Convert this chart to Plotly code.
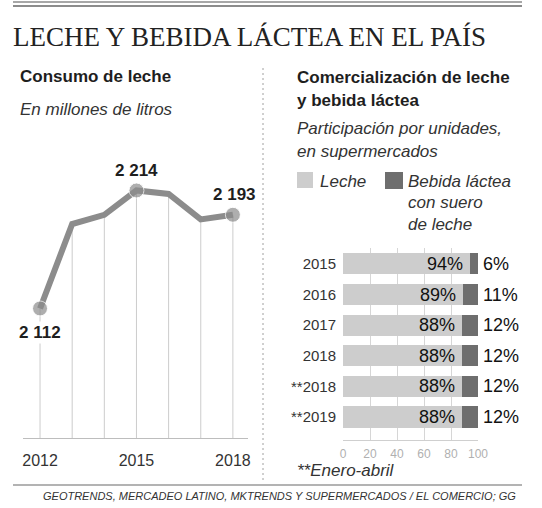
import plotly.graph_objects as go

# ---------------- data ----------------
years = [2012, 2013, 2014, 2015, 2016, 2017, 2018]
consumo = [2112, 2185, 2193, 2214, 2211, 2189, 2193]
labeled_years = [2012, 2015, 2018]
x_ticks = [2012, 2015, 2018]

cats = ["2015", "2016", "2017", "2018", "**2018", "**2019"]
leche = [94, 89, 88, 88, 88, 88]
bebida = [6, 11, 12, 12, 12, 12]
pct_ticks = [0, 20, 40, 60, 80, 100]

W, H = 542, 508
SANS = "Liberation Sans, Arial, sans-serif"
SERIF = "Liberation Serif, Times New Roman, serif"
DARK = "#1e1e1e"


def px(x):
    return x / W


def py(y):
    return 1 - y / H


fig = go.Figure()

# drop lines from base to each value
dx, dy = [], []
for yr, v in zip(years, consumo):
    dx += [yr, yr, None]
    dy += [2000, v, None]
fig.add_trace(go.Scatter(x=dx, y=dy, mode="lines", line=dict(color="#cccccc", width=1),
                         hoverinfo="skip", showlegend=False, xaxis="x", yaxis="y"))

# main line
msize = [15 if yr in labeled_years else 0 for yr in years]
fig.add_trace(go.Scatter(x=years, y=consumo, mode="lines+markers",
                         line=dict(color="#8c8c8c", width=6),
                         marker=dict(size=msize, color="#8c8c8c"),
                         showlegend=False, xaxis="x", yaxis="y"))

# stacked bars
fig.add_trace(go.Bar(y=cats, x=leche, orientation="h", name="Leche",
                     marker=dict(color="#cdcdcd", line=dict(width=0)),
                     showlegend=False, xaxis="x2", yaxis="y2"))
fig.add_trace(go.Bar(y=cats, x=bebida, orientation="h", name="Bebida láctea",
                     marker=dict(color="#6e6e6e", line=dict(width=0)),
                     showlegend=False, xaxis="x2", yaxis="y2"))

annotations = []

# line value labels
for yr, v in zip(years, consumo):
    if yr not in labeled_years:
        continue
    txt = f"{v:,}".replace(",", " ")
    if yr == 2012:
        annotations.append(dict(x=yr, y=v, xref="x", yref="y", text=f"<b>{txt}</b>",
                                showarrow=False, yshift=-24, bgcolor="white",
                                font=dict(family=SANS, size=17, color=DARK)))
    else:
        annotations.append(dict(x=yr, y=v, xref="x", yref="y", text=f"<b>{txt}</b>",
                                showarrow=False, yshift=20, xshift=2 if yr == 2018 else 0,
                                font=dict(family=SANS, size=17, color=DARK)))

# bar value labels (category index positions)
for i, (c, l, b) in enumerate(zip(cats, leche, bebida)):
    annotations.append(dict(x=l, y=i, xref="x2", yref="y2", text=f"{l}%", showarrow=False,
                            xanchor="right", xshift=-5,
                            font=dict(family=SANS, size=18, color="#111111")))
    annotations.append(dict(x=l + b, y=i, xref="x2", yref="y2", text=f"{b}%", showarrow=False,
                            xanchor="left", xshift=3,
                            font=dict(family=SANS, size=18, color="#111111")))


def txt(x, y, s, size, italic=False, bold=False, color=DARK, family=SANS):
    if bold:
        s = f"<b>{s}</b>"
    if italic:
        s = f"<i>{s}</i>"
    annotations.append(dict(x=px(x), y=py(y), xref="paper", yref="paper", text=s,
                            showarrow=False, xanchor="left", yanchor="middle",
                            font=dict(family=family, size=size, color=color)))


txt(11, 37, "LECHE Y BEBIDA LÁCTEA EN EL PAÍS", 27, family=SERIF, color="#222222")
txt(18, 77, "Consumo de leche", 17, bold=True)
txt(18, 109, "En millones de litros", 17, italic=True, color="#333333")
txt(295, 78, "Comercialización de leche", 17, bold=True)
txt(295, 101, "y bebida láctea", 17, bold=True)
txt(295, 128, "Participación por unidades,", 17, italic=True, color="#333333")
txt(295, 151, "en supermercados", 17, italic=True, color="#333333")
txt(318, 181, "Leche", 17, italic=True, color="#333333")
txt(406, 181, "Bebida láctea", 17, italic=True, color="#333333")
txt(406, 203, "con suero", 17, italic=True, color="#333333")
txt(406, 224, "de leche", 17, italic=True, color="#333333")
txt(295, 470, "**Enero-abril", 17, italic=True, color="#333333")
txt(41, 496, "GEOTRENDS, MERCADEO LATINO, MKTRENDS Y SUPERMERCADOS / EL COMERCIO; GG", 11,
    italic=True, color="#333333")

shapes = [
    dict(type="line", xref="paper", yref="paper", x0=px(13), x1=px(522), y0=py(2), y1=py(2),
         line=dict(color="#8a8a8a", width=1.5)),
    dict(type="line", xref="paper", yref="paper", x0=px(13), x1=px(522), y0=py(6), y1=py(6),
         line=dict(color="#666666", width=1.5)),
    dict(type="line", xref="paper", yref="paper", x0=px(13), x1=px(522), y0=py(485), y1=py(485),
         line=dict(color="#9a9a9a", width=1.5)),
    dict(type="line", xref="paper", yref="paper", x0=px(263), x1=px(263), y0=py(68), y1=py(480),
         line=dict(color="#a0a0a0", width=1, dash="2px,3px")),
    dict(type="rect", xref="paper", yref="paper", x0=px(297), x1=px(313), y0=py(188), y1=py(172),
         fillcolor="#cdcdcd", line=dict(width=0)),
    dict(type="rect", xref="paper", yref="paper", x0=px(385), x1=px(403), y0=py(189), y1=py(172),
         fillcolor="#6e6e6e", line=dict(width=0)),
]

fig.update_layout(
    width=W, height=H,
    margin=dict(l=0, r=0, t=0, b=0, autoexpand=False),
    paper_bgcolor="white", plot_bgcolor="white",
    barmode="stack", bargap=0.31,
    font=dict(family=SANS, color=DARK),
    annotations=annotations,
    shapes=shapes,
    xaxis=dict(domain=[px(23), px(248)], range=[2011.47, 2018.47], anchor="y",
               tickvals=x_ticks, ticktext=[str(t) for t in x_ticks], automargin=False,
               showgrid=False, zeroline=False, showline=True, linecolor="#bdbdbd", linewidth=1,
               ticks="", ticklabelstandoff=8,
               tickfont=dict(family=SANS, size=16, color="#333333")),
    yaxis=dict(domain=[py(438), py(150)], range=[2000, 2249], anchor="x", visible=False,
               automargin=False),
    xaxis2=dict(domain=[px(343), px(478)], range=[0, 100], anchor="y2", automargin=False,
                tickvals=pct_ticks, showgrid=True, gridcolor="#d6d6d6", gridwidth=1,
                zeroline=False, showline=True, linecolor="#cfcfcf", linewidth=1,
                ticks="", ticklabelstandoff=3,
                tickfont=dict(family=SANS, size=12, color="#b0b0b0")),
    yaxis2=dict(domain=[py(440), py(248)], anchor="x2", type="category", automargin=False,
                categoryorder="array", categoryarray=cats, range=[5.75, -0.52],
                showgrid=False, zeroline=False, showline=False, ticks="",
                ticklabelstandoff=6,
                tickfont=dict(family=SANS, size=15, color="#333333")),
)

fig.write_html("out.html", config={"displayModeBar": False},
               post_script="document.body.style.margin='0';document.body.style.overflow='hidden';")
